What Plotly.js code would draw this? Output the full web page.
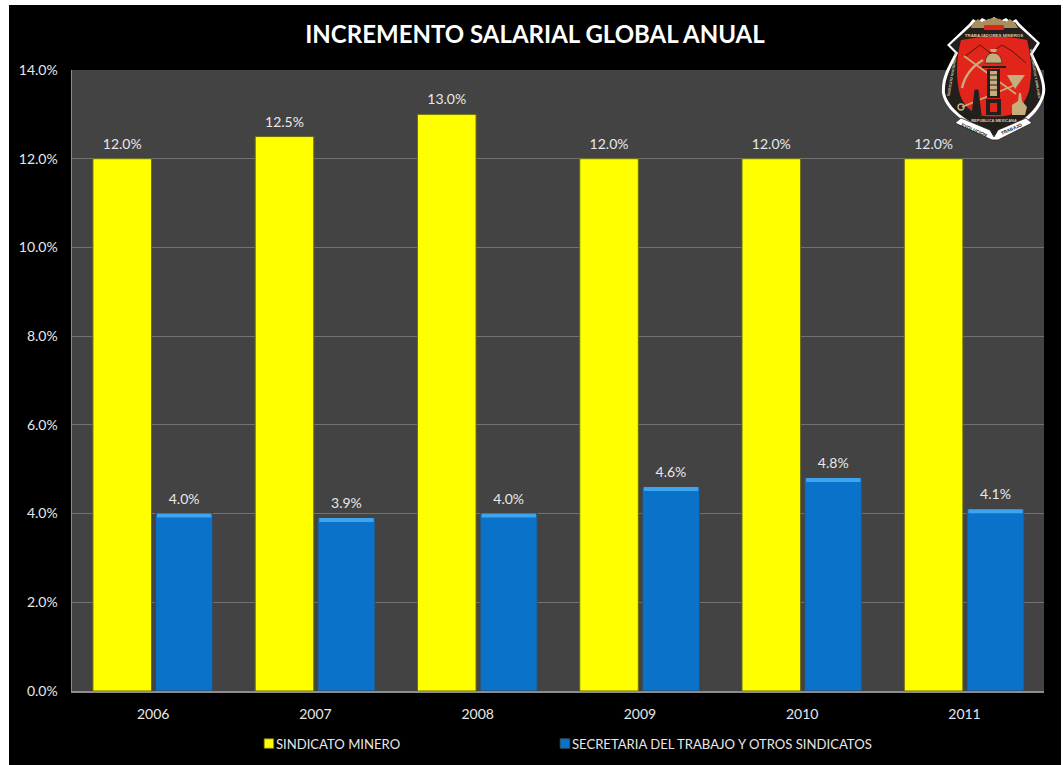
<!DOCTYPE html>
<html><head><meta charset="utf-8">
<script src="https://cdn.plot.ly/plotly-3.0.1.min.js"></script>
<style>
html,body{margin:0;padding:0;background:#fff;overflow:hidden}
#chart{position:absolute;left:9px;top:5px;width:1052px;height:760px}
#logo{position:absolute;left:940px;top:15px;width:110px;height:126px}
</style></head><body>
<div id="chart"></div>
<svg id="logo" viewBox="0 0 110 126" font-family="Liberation Sans" font-weight="bold">
<path d="M29 9 L33 4 L38 7 L42 3 L48 6 L54 2 L60 6 L66 3 L71 7 L76 4 L80 9 L100 28 L93 39 C102 58 108 70 104 82 C100 94 92 102 83 109 L54 124 L24 106 C14 99 4 90 2 78 C1 62 8 52 15 38 L7 30 Z" fill="#fff"/>
<path d="M31 11 L35 7 L40 10 L44 6 L49 9 L54 5 L59 9 L65 6 L70 10 L75 7 L78 11 L97 28 L90 39 C99 58 105 70 101 82 C97 92 90 99 81 106 L54 121 L26 104 C16 97 7 88 5 78 C4 63 11 53 18 38 L10 30 Z" fill="#231f1c"/>
<path d="M33 8 L38 4 L42 7 L48 4 L54 3 L60 4 L66 7 L70 4 L75 8 L78 13 L31 13 Z" fill="#a98f5c"/>
<rect x="44" y="10" width="20" height="5" rx="1" fill="#e1251b"/>
<path d="M21 25 Q54 18 87 25 C92 45 92 60 89 76 C85 88 78 96 70 100 Q54 103 38 100 C28 95 22 88 19 76 C16 60 16 45 21 25 Z" fill="#e1251b"/>
<path d="M24 42 L40 30 L50 38 L62 30 L72 36 L86 48" fill="none" stroke="#5a1410" stroke-width="1"/>
<path d="M22 73 Q26 55 43 45" fill="none" stroke="#c8ad7c" stroke-width="2.4"/>
<path d="M24 41 L76 79" stroke="#c8ad7c" stroke-width="1.6"/>
<path d="M22 92 L75 70" stroke="#c8ad7c" stroke-width="1.8"/>
<circle cx="21" cy="92" r="3" fill="none" stroke="#c8ad7c" stroke-width="1.4"/>
<path d="M67 60 L85 60 L75 74 Z" fill="#c8ad7c"/>
<path d="M32 100 L35 75 L38 75 L41 100 Z M34 83 H39 M33 90 H40" fill="#231f1c" stroke="#231f1c" stroke-width="1"/>
<path d="M72 100 L72 90 L78 86 L79 78 L81 78 L82 86 L87 92 L85 100 Z" fill="#c8ad7c"/>
<path d="M50 34 H57 L56 37 H51 Z" fill="#c8ad7c"/>
<path d="M45 48 Q46 38 53 38 Q61 38 62 48 Z" fill="#c8ad7c" stroke="#231f1c" stroke-width=".6"/>
<rect x="42" y="51" width="24" height="2" fill="#231f1c"/>
<rect x="47" y="54" width="13" height="29" fill="#231f1c"/>
<rect x="50" y="56" width="7" height="25" fill="#c8ad7c"/>
<path d="M50 60 H57 M50 65 H57 M50 70 H57 M50 75 H57" stroke="#231f1c" stroke-width="1"/>
<rect x="46" y="84" width="15" height="16" fill="#231f1c"/>
<rect x="50" y="88" width="7" height="9" fill="#e1251b"/>
<text x="54" y="21.5" font-size="4.4" fill="#d9c9a8" text-anchor="middle">TRABAJADORES MINEROS</text>
<text transform="translate(13.5,59) rotate(-80)" font-size="3.6" fill="#d9c9a8" text-anchor="middle">SINDICATO NACIONAL DE</text>
<text transform="translate(94,59) rotate(80)" font-size="3.4" fill="#d9c9a8" text-anchor="middle">METALURGICOS Y SIMILARES</text>
<text x="54" y="107" font-size="4" fill="#d9c9a8" text-anchor="middle">REPUBLICA MEXICANA</text>
<path d="M15 108 L21 103 L50 115 L54 122 L58 115 L86 103 L92 108 L58 125 L52 125 Z" fill="#fff" stroke="#231f1c" stroke-width=".8"/>
<text transform="translate(21,111) rotate(24)" font-size="4.6" fill="#111">EVOLUCION</text>
<text transform="translate(62,120) rotate(-24)" font-size="4.6" fill="#111">TRABAJO</text>
</svg>
<script>
var categories = ["2006","2007","2008","2009","2010","2011"];
var sindicatoMinero = [12.0,12.5,13.0,12.0,12.0,12.0];
var secretariaTrabajo = [4.0,3.9,4.0,4.6,4.8,4.1];
var sindicatoLabels = ["12.0%","12.5%","13.0%","12.0%","12.0%","12.0%"];
var secretariaLabels = ["4.0%","3.9%","4.0%","4.6%","4.8%","4.1%"];
var yTicks = [0,2,4,6,8,10,12,14];
var yTickLabels = ["0.0%","2.0%","4.0%","6.0%","8.0%","10.0%","12.0%","14.0%"];
var capH = 0.09;
var txt = {family:"Lato, sans-serif", size:14, color:"#e8e8e8"};
var traces = [
 {type:"bar",name:"SINDICATO MINERO",x:categories,y:sindicatoMinero,width:0.361,offset:-0.371,
  text:sindicatoLabels,textposition:"outside",cliponaxis:false,textfont:txt,
  marker:{color:"#ffff00",line:{color:"#6b6b10",width:1}}},
 {type:"bar",name:"SECRETARIA DEL TRABAJO Y OTROS SINDICATOS",x:categories,y:secretariaTrabajo,width:0.352,offset:0.015,
  text:secretariaLabels,textposition:"outside",cliponaxis:false,textfont:txt,
  marker:{color:"#0a72c8",line:{color:"#3c4a58",width:1}}},
 {type:"bar",showlegend:false,hoverinfo:"skip",x:categories,y:secretariaTrabajo.map(function(){return capH;}),
  base:secretariaTrabajo.map(function(v){return v-capH;}),width:0.335,offset:0.024,marker:{color:"#3fa4ee"}}
];
var layout = {
 width:1052,height:760,barmode:"overlay",
 paper_bgcolor:"#000",plot_bgcolor:"#434343",
 margin:{l:63,r:17,t:65,b:73.5,autoexpand:false},
 title:{text:"<b>INCREMENTO SALARIAL GLOBAL ANUAL</b>",x:0.5,xref:"container",xanchor:"center",y:0.961,yanchor:"middle",
  font:{family:"Lato, sans-serif",size:24,color:"#fff"}},
 xaxis:{type:"category",range:[-0.5,5.49],tickfont:txt,showgrid:false,ticks:"",ticklabelstandoff:9,linecolor:"#8c8c8c",linewidth:2,showline:true,zeroline:false},
 yaxis:{range:[0,14],tickvals:yTicks,ticktext:yTickLabels,tickfont:txt,gridcolor:"#727272",gridwidth:1.2,linecolor:"#8c8c8c",linewidth:1.5,showline:true,zeroline:false,ticks:"",ticklabelstandoff:10},
 showlegend:true,
 legend:{orientation:"h",xref:"container",yref:"container",x:0.2414,xanchor:"left",y:0.0276,yanchor:"middle",
  font:{family:"Lato, sans-serif",size:13.1,color:"#e8e8e8"},bgcolor:"rgba(0,0,0,0)",itemwidth:30,entrywidth:251,entrywidthmode:"pixels"}
};
Plotly.newPlot("chart",traces,layout,{displayModeBar:false,staticPlot:true}).then(function(){
 document.querySelectorAll("#chart .legendtext").forEach(function(t){t.setAttribute("x",13);});
 document.querySelectorAll("#chart .legendpoints path").forEach(function(p){
   p.setAttribute("transform","translate(6,0) scale(0.8)");
 });
 document.querySelectorAll("#chart .legend [clip-path]").forEach(function(e){e.removeAttribute("clip-path");});
 document.querySelectorAll("#chart .legend .scrollbox, #chart .legend .traces").forEach(function(e){e.removeAttribute("clip-path");});
 document.querySelectorAll("#chart .bars .bartext").forEach(function(t){
   t.setAttribute("transform",(t.getAttribute("transform")||"")+" translate(0,-4)");
 });
});
</script>
</body></html>
